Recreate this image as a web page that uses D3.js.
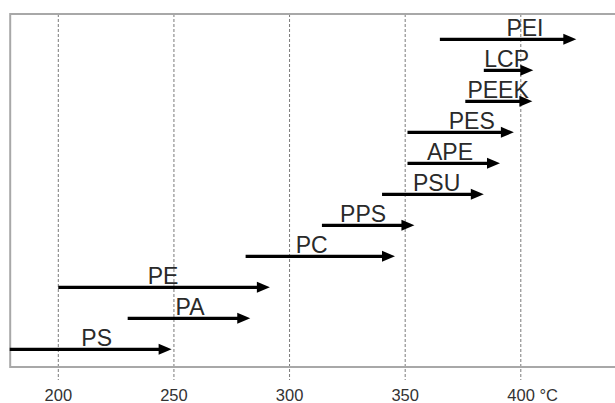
<!DOCTYPE html>
<html><head><meta charset="utf-8">
<script src="https://cdn.jsdelivr.net/npm/d3@7"></script>
<style>
html,body{margin:0;padding:0;background:#fff;}
svg{display:block;font-family:"Liberation Sans",Arial,sans-serif;}
</style></head>
<body>
<svg id="chart" width="615" height="403"></svg>
<script>
// Polymers, top to bottom
const polymers = ["PEI","LCP","PEEK","PES","APE","PSU","PPS","PC","PE","PA","PS"];
const startTemp = [365, 384, 376, 351, 351, 340, 314, 281, 200, 230, 179];
const endTemp   = [424, 405.4, 405, 397, 391, 384, 354, 345.6, 291.5, 283, 249];
const labelTemp = [401.8, 393.9, 390.2, 378.8, 369.4, 363.6, 331.8, 309.6, 245.3, 257, 216.6];
const tickValues = [200, 250, 300, 350, 400];
const tickLabels = ["200", "250", "300", "350", "400 °C"];

const svg = d3.select("#chart");
const x = d3.scaleLinear().domain([200, 400]).range([58.3, 520.8]);
const y = d3.scalePoint().domain(polymers).range([39.3, 349.3]);

const frameLeft = x(179.2), frameTop = 14, frameBottom = 367, frameRight = 640;

// gridlines with tick extensions
svg.append("g").selectAll("line").data(tickValues).join("line")
  .attr("x1", d => x(d)).attr("x2", d => x(d))
  .attr("y1", frameTop).attr("y2", 380)
  .attr("stroke", "#7a7a7a").attr("stroke-width", 1)
  .attr("stroke-dasharray", "3,2");

// frame
svg.append("path")
  .attr("d", `M${frameRight},${frameTop}H${frameLeft}V${frameBottom}H${frameRight}`)
  .attr("fill", "none").attr("stroke", "#a8a8a8").attr("stroke-width", 2);

// tick labels
svg.append("g").selectAll("text").data(tickValues).join("text")
  .attr("x", (d, i) => i === tickValues.length - 1 ? x(d) - 13.5 : x(d))
  .attr("y", 401)
  .attr("text-anchor", (d, i) => i === tickValues.length - 1 ? "start" : "middle")
  .attr("font-size", 16.5).attr("fill", "#333")
  .text((d, i) => tickLabels[i]);

const headLen = 13, headHalf = 5.5;
const rows = polymers.map((p, i) => ({name: p, s: startTemp[i], e: endTemp[i], l: labelTemp[i]}));
const g = svg.append("g");
g.selectAll("line.shaft").data(rows).join("line").attr("class", "shaft")
  .attr("x1", d => x(d.s)).attr("x2", d => x(d.e) - headLen + 1)
  .attr("y1", d => y(d.name)).attr("y2", d => y(d.name))
  .attr("stroke", "#000").attr("stroke-width", 3.2);
g.selectAll("path.head").data(rows).join("path").attr("class", "head")
  .attr("d", d => {
    const tx = x(d.e), ty = y(d.name);
    return `M${tx},${ty}L${tx - headLen},${ty - headHalf}L${tx - headLen},${ty + headHalf}Z`;
  })
  .attr("fill", "#000");
g.selectAll("text").data(rows).join("text")
  .attr("x", d => x(d.l)).attr("y", d => y(d.name) - 3)
  .attr("text-anchor", "middle")
  .attr("font-size", 23).attr("fill", "#2a2a2a")
  .text(d => d.name);
</script>
</body></html>
